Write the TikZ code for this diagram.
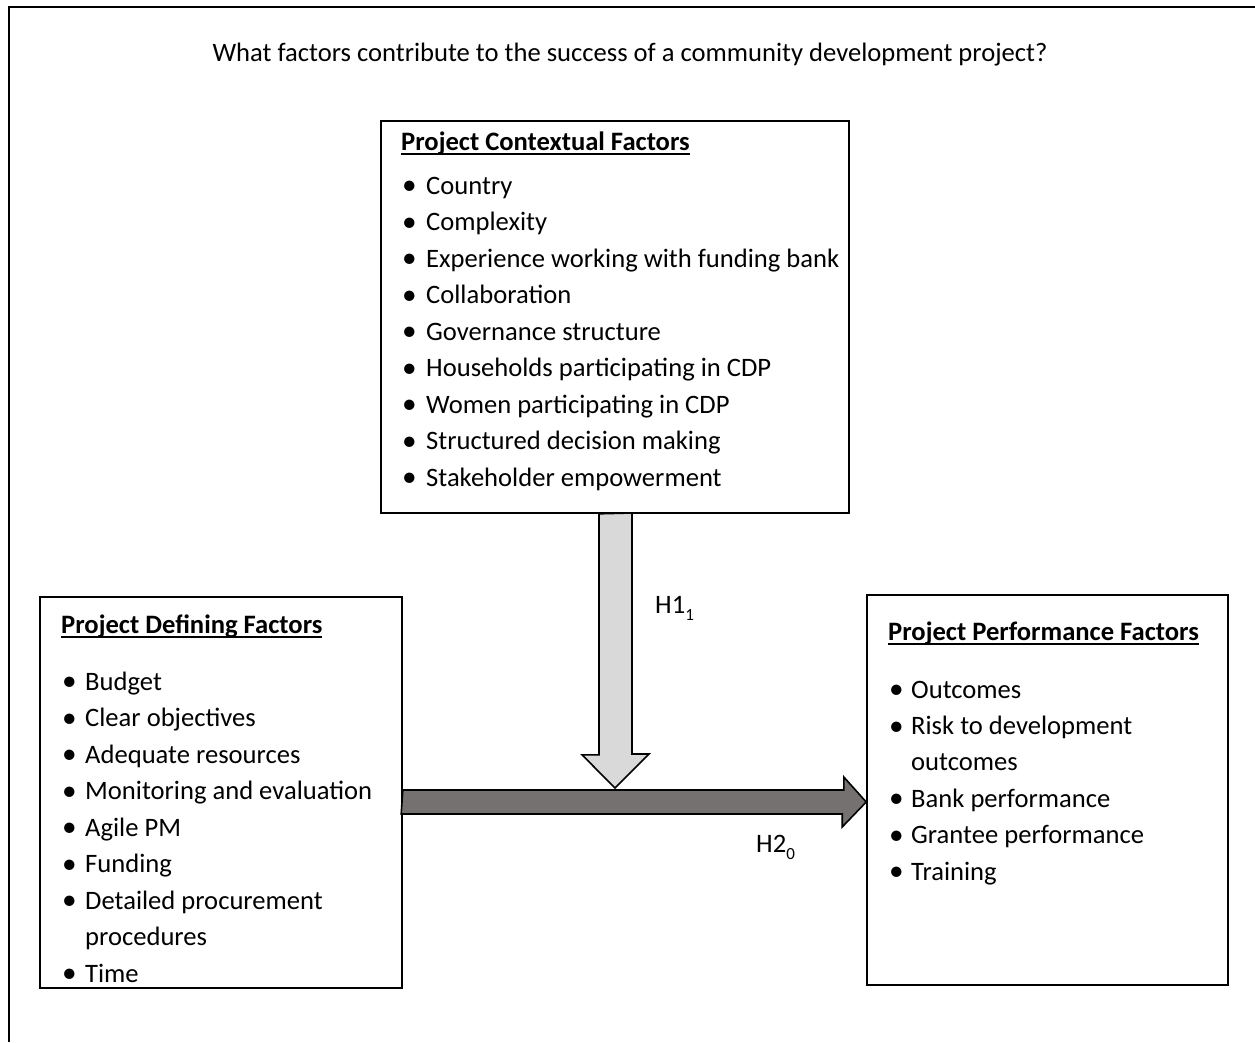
\documentclass[tikz,border=0pt]{standalone}
\usepackage{fontspec}
\setmainfont{Carlito}
\usetikzlibrary{calc}

\definecolor{darkarrow}{HTML}{767171}
\definecolor{lightarrow}{HTML}{D9D9D9}

\newcommand{\ultitle}[1]{\setbox0\hbox{\bfseries #1}\rlap{\rule[-4.8pt]{\wd0}{1.7pt}}\box0}
\newcommand{\lowsub}[1]{\raisebox{-7pt}{\fontsize{17}{17}\selectfont #1}}
\newcommand{\bigbullet}{\hspace{1pt}\raisebox{-0.6pt}{\scalebox{1.1}{\textbullet}}}

\tikzset{
  factorbox/.style={draw,line width=1.6pt,inner sep=0pt},
  txt/.style={inner sep=0pt,anchor=base west,font=\fontsize{26.6}{30}\selectfont},
  arrowbody/.style={draw,line width=1.6pt,line join=miter}
}

\begin{document}
\begin{tikzpicture}[x=1pt,y=-1pt]
  \useasboundingbox (0,0) rectangle (1255,1042);
  % page frame
  \draw[line width=2pt] (9,1042) -- (9,7) -- (1255,7);

  \node[txt,anchor=base] (q) at (630,61) {What factors contribute to the success of a community development project?};

  % boxes
  \node[factorbox,minimum width=468,minimum height=392] (ctx) at (615,317) {};
  \node[factorbox,minimum width=362,minimum height=391] (def) at (221,792.5) {};
  \node[factorbox,minimum width=361,minimum height=390] (perf) at (1047.5,790) {};

  % arrows
  \coordinate (vt) at (615,788);
  \coordinate (hs) at (def.east |- 0,802);
  \coordinate (he) at (perf.west |- 0,802);
  \draw[arrowbody,fill=lightarrow] (ctx.south) ++(-16,0) -- ++(0,241) -- ++(-17,0)
    -- (vt) -- ++(34,-34) -- ++(-17,0) -- ++(0,-241) -- cycle;
  \draw[arrowbody,fill=darkarrow] (hs) ++(0,-12) -- ++(441,0) -- ++(0,-13)
    -- (he) -- ++(-24,25) -- ++(0,-13) -- ++(-441,0) -- cycle;
  \node[txt] (h1) at (655,613) {H1\lowsub{1}};
  \node[txt] (h2) at (756,852) {H2\lowsub{0}};

  % contextual factors
  \node[txt] (ctxtitle) at (401,150) {\ultitle{Project Contextual Factors}};
  \foreach \t [count=\i from 0] in {Country, Complexity, Experience working with funding bank,
      Collaboration, Governance structure, Households participating in CDP,
      Women participating in CDP, Structured decision making, Stakeholder empowerment}
    \node[txt] (ctx\i) at (401,194+36.5*\i) {\makebox[25pt][l]{\bigbullet}\t};

  % defining factors
  \node[txt] (deftitle) at (61,633) {\ultitle{Project Defining Factors}};
  \foreach \b/\t [count=\i from 0] in {1/Budget, 1/Clear objectives, 1/Adequate resources,
      1/Monitoring and evaluation, 1/Agile PM, 1/Funding, 1/Detailed procurement,
      0/procedures, 1/Time}
    \node[txt] (def\i) at (61,690+36.5*\i) {\makebox[24pt][l]{\ifnum\b=1 \bigbullet\fi}\t};

  % performance factors
  \node[txt] (perftitle) at (888,640) {\ultitle{Project Performance Factors}};
  \foreach \b/\t [count=\i from 0] in {1/Outcomes, 1/Risk to development, 0/outcomes,
      1/Bank performance, 1/Grantee performance, 1/Training}
    \node[txt] (perf\i) at (888,698+36.4*\i) {\makebox[23pt][l]{\ifnum\b=1 \bigbullet\fi}\t};
\end{tikzpicture}
\end{document}
